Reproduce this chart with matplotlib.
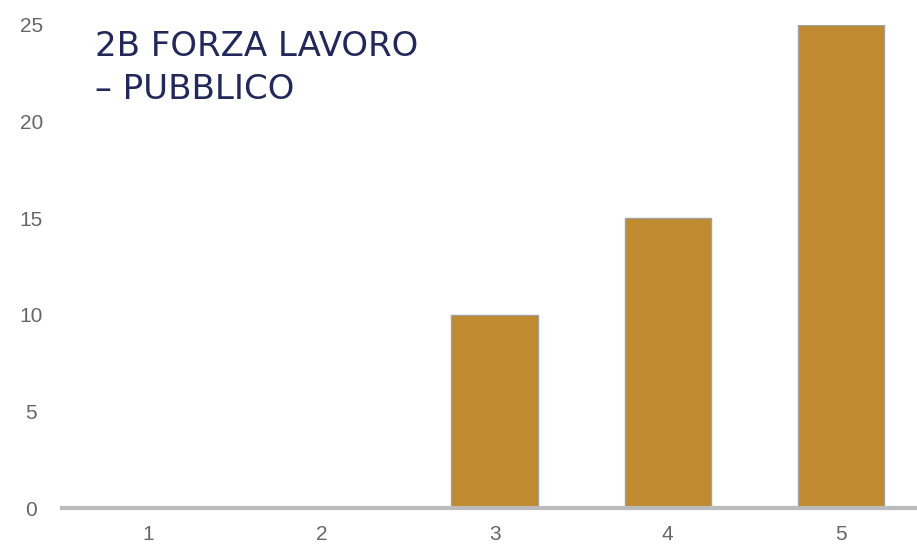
import matplotlib
matplotlib.use("Agg")
import matplotlib.pyplot as plt
from matplotlib import font_manager

categories = ["1", "2", "3", "4", "5"]
values = [0, 0, 10, 15, 25]
yticks = [0, 5, 10, 15, 20, 25]
title_lines = ["2B FORZA LAVORO", "\u2013 PUBBLICO"]

names = {f.name for f in font_manager.fontManager.ttflist}
tick_font = "Liberation Sans Narrow" if "Liberation Sans Narrow" in names else "Liberation Sans"

fig = plt.figure(figsize=(9.17, 5.46), dpi=100)
W, H = 917, 546
ax = fig.add_axes([62 / W, 1 - 508 / H, 1 - 62 / W, (508 - 25) / H])

x = list(range(1, len(categories) + 1))
ax.bar(x, values, width=0.5, color="#BF8A30", edgecolor="#A0A0A0", linewidth=1, zorder=2)

ax.set_xlim(0.5, 5.44)
ax.set_ylim(0, 25)
ax.set_xticks(x)
ax.set_xticklabels(categories)
ax.set_yticks(yticks)
for s in ["top", "right", "left"]:
    ax.spines[s].set_visible(False)
ax.spines["bottom"].set_color("#BBBBBB")
ax.spines["bottom"].set_linewidth(3)
ax.spines["bottom"].set_zorder(3)
ax.tick_params(axis="both", length=0, labelsize=15, labelcolor="#666666")
ax.tick_params(axis="y", pad=22)
ax.tick_params(axis="x", pad=12)
for lab in ax.get_xticklabels() + ax.get_yticklabels():
    lab.set_fontfamily(tick_font)
for lab in ax.get_yticklabels():
    lab.set_horizontalalignment("center")

fig.text(95 / W, 1 - 56 / H, title_lines[0], ha="left", va="baseline", fontsize=24.5,
         color="#23285A", family="DejaVu Sans")
fig.text(95 / W, 1 - 99 / H, title_lines[1], ha="left", va="baseline", fontsize=24.5,
         color="#23285A", family="DejaVu Sans")

fig.savefig("out.png", dpi=100)
